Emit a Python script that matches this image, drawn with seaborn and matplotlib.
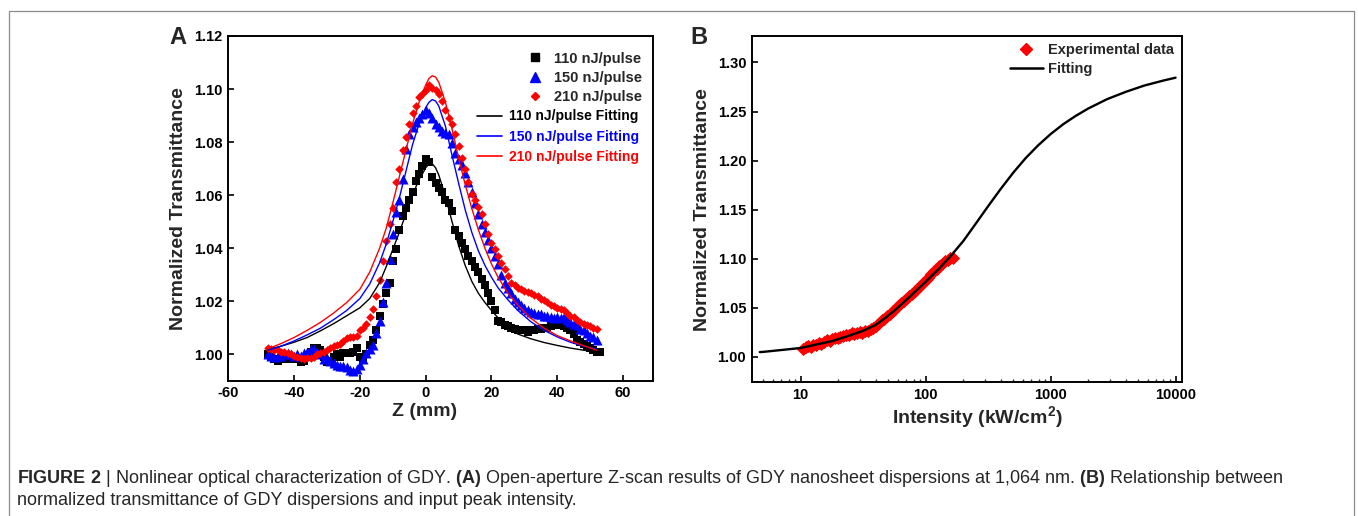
import matplotlib
matplotlib.use("Agg")
import matplotlib.pyplot as plt
from matplotlib.lines import Line2D
from matplotlib.patches import Rectangle
from matplotlib.ticker import FixedLocator, LogLocator, NullFormatter, FormatStrFormatter
import seaborn as sns

# ---------------- panel A: open-aperture Z-scan ----------------
Z_MM = [-48, -47, -46, -45, -44, -43, -42, -41, -40, -39,
        -38, -37, -36, -35, -34, -33, -32, -31, -30, -29,
        -28, -27, -26, -25, -24, -23, -22, -21, -20, -19,
        -18, -17, -16, -15, -14, -13, -12, -11, -10, -9,
        -8, -7, -6, -5, -4, -3, -2, -1, 0, 1,
        2, 3, 4, 5, 6, 7, 8, 9, 10, 11,
        12, 13, 14, 15, 16, 17, 18, 19, 20, 21,
        22, 23, 24, 25, 26, 27, 28, 29, 30, 31,
        32, 33, 34, 35, 36, 37, 38, 39, 40, 41,
        42, 43, 44, 45, 46, 47, 48, 49, 50, 51,
        52, 53]

T_110 = [1.000, 0.999, 0.998, 0.9975, 0.998, 0.998, 0.998, 0.998, 0.9985, 0.998,
         0.997, 0.9975, 0.999, 1.001, 1.0025, 1.0025, 1.0015, 0.999, 0.997, 0.9975,
         0.999, 1.000, 0.999, 1.0005, 1.0005, 1.0005, 1.001, 1.0025, 0.999, 0.998,
         1.000, 1.0035, 1.0055, 1.009, 1.0145, 1.019, 1.023, 1.027, 1.035, 1.0395,
         1.047, 1.052, 1.055, 1.058, 1.061, 1.0655, 1.068, 1.071, 1.0735, 1.0725,
         1.067, 1.0645, 1.0625, 1.061, 1.058, 1.057, 1.054, 1.047, 1.0445, 1.042,
         1.0395, 1.037, 1.035, 1.033, 1.031, 1.0285, 1.026, 1.023, 1.020, 1.0165,
         1.0125, 1.012, 1.011, 1.0105, 1.010, 1.0095, 1.009, 1.009, 1.009, 1.0085,
         1.009, 1.009, 1.0095, 1.0095, 1.010, 1.010, 1.0105, 1.011, 1.011, 1.011,
         1.0105, 1.010, 1.009, 1.0075, 1.0055, 1.0045, 1.004, 1.003, 1.0025, 1.0015,
         1.001, 1.001]

T_150 = [1.000, 0.9995, 0.999, 0.9995, 0.9995, 1.000, 1.0005, 1.000, 0.9995, 1.000,
         0.9995, 1.0005, 1.001, 1.002, 1.002, 1.001, 1.000, 0.998, 0.9985, 0.9975,
         0.9965, 0.996, 0.9955, 0.9955, 0.995, 0.994, 0.9937, 0.9945, 0.996, 0.998,
         1.0005, 1.002, 1.0035, 1.008, 1.0125, 1.0195, 1.027, 1.036, 1.0455, 1.0535,
         1.058, 1.066, 1.0775, 1.083, 1.0855, 1.0875, 1.089, 1.0905, 1.092, 1.091,
         1.089, 1.087, 1.0855, 1.084, 1.0835, 1.083, 1.0795, 1.076, 1.0735, 1.0715,
         1.0685, 1.065, 1.061, 1.057, 1.053, 1.049, 1.046, 1.043, 1.040, 1.037,
         1.034, 1.030, 1.027, 1.025, 1.023, 1.021, 1.0195, 1.0185, 1.0175, 1.0165,
         1.016, 1.0155, 1.015, 1.015, 1.0145, 1.0145, 1.014, 1.0135, 1.014, 1.0135,
         1.014, 1.013, 1.012, 1.0115, 1.011, 1.0095, 1.009, 1.008, 1.007, 1.0063,
         1.0055]

T_210 = [1.0025, 1.002, 1.0015, 1.0015, 1.001, 1.001, 1.0005, 1.000, 0.9995, 0.999,
         0.9985, 0.998, 0.9985, 0.9985, 0.999, 1.000, 1.0005, 1.001, 1.0015, 1.0025,
         1.003, 1.0035, 1.004, 1.005, 1.006, 1.0065, 1.0065, 1.007, 1.009, 1.010,
         1.0115, 1.014, 1.017, 1.022, 1.028, 1.035, 1.0425, 1.049, 1.055, 1.065,
         1.070, 1.077, 1.082, 1.087, 1.091, 1.0935, 1.097, 1.098, 1.0995, 1.1015,
         1.1005, 1.0995, 1.098, 1.0955, 1.092, 1.089, 1.087, 1.083, 1.0785, 1.074,
         1.070, 1.065, 1.0605, 1.058, 1.0555, 1.053, 1.049, 1.0455, 1.042, 1.0395,
         1.037, 1.0345, 1.032, 1.0295, 1.027, 1.026, 1.025, 1.0245, 1.024, 1.0235,
         1.023, 1.0225, 1.022, 1.021, 1.0205, 1.0195, 1.0185, 1.018, 1.0175, 1.017,
         1.0165, 1.0155, 1.0145, 1.014, 1.013, 1.012, 1.0115, 1.011, 1.0105, 1.010,
         1.0095]

FIT_Z = [-48, -44, -40, -36, -32, -28, -24, -20, -17, -14, -12, -10, -8, -6,
         -4, -2, -1, 0, 1, 2, 3, 4, 6, 8, 10, 12, 14, 16, 18, 20, 22, 25, 28,
         32, 36, 40, 44, 48, 52]
FIT_110 = [1.0018, 1.003, 1.0045, 1.0063, 1.0088, 1.0115, 1.0145, 1.0175, 1.021,
           1.027, 1.033, 1.0395, 1.046, 1.053, 1.060, 1.066, 1.068, 1.0703, 1.0717,
           1.0718, 1.0703, 1.0675, 1.0595, 1.050, 1.041, 1.0335, 1.0275, 1.023,
           1.0195, 1.0165, 1.0137, 1.0098, 1.0076, 1.0058, 1.0044, 1.0033, 1.0023,
           1.0015, 1.0009]
FIT_150 = [1.0015, 1.003, 1.005, 1.0073, 1.0098, 1.013, 1.0165, 1.021, 1.0265,
           1.0345, 1.0415, 1.050, 1.059, 1.069, 1.079, 1.087, 1.090, 1.093, 1.095,
           1.096, 1.0955, 1.0935, 1.086, 1.075, 1.0645, 1.0545, 1.046, 1.039,
           1.0335, 1.029, 1.025, 1.0205, 1.0165, 1.0122, 1.009, 1.0065, 1.0045,
           1.003, 1.0019]
FIT_210 = [1.002, 1.004, 1.0063, 1.009, 1.012, 1.0155, 1.0195, 1.0245, 1.031,
           1.040, 1.0475, 1.057, 1.067, 1.077, 1.087, 1.095, 1.0985, 1.1015, 1.104,
           1.105, 1.1045, 1.1025, 1.095, 1.085, 1.074, 1.064, 1.055, 1.047, 1.040,
           1.034, 1.029, 1.023, 1.0185, 1.0135, 1.0098, 1.007, 1.005, 1.0032, 1.0015]

# ---------------- panel B: transmittance vs intensity ----------------
EXP_I = [10.5, 11.0, 11.5, 12.0, 12.6, 13.2, 13.9, 14.6, 15.4, 16.2, 17.0, 17.9,
         18.8, 19.8, 20.8, 21.9, 23.0, 24.2, 25.5, 26.8, 28.2, 29.7, 31.2, 32.8,
         34.5, 36.3, 38.2, 40.2, 42.3, 44.5, 46.8, 49.2, 51.8, 54.5, 57.3, 60.3,
         63.4, 66.7, 70.2, 73.8, 77.6, 81.7, 85.9, 90.4, 95.1, 100, 105, 110.6,
         116.3, 122.3, 128.7, 135.4, 142.4, 149.8, 157.6, 165.8]
EXP_T = [1.008, 1.0095, 1.011, 1.010, 1.012, 1.0125, 1.014, 1.013, 1.0155, 1.017,
         1.0165, 1.0185, 1.019, 1.0195, 1.0205, 1.021, 1.022, 1.0225, 1.024, 1.0235,
         1.0245, 1.025, 1.0245, 1.026, 1.0265, 1.028, 1.029, 1.031, 1.034, 1.037,
         1.039, 1.042, 1.044, 1.047, 1.049, 1.052, 1.055, 1.057, 1.059, 1.062,
         1.064, 1.067, 1.069, 1.072, 1.075, 1.078, 1.0805, 1.084, 1.087, 1.090,
         1.0925, 1.095, 1.0975, 1.099, 1.1005, 1.101]

FIT_I = [4.7, 5.0, 7.1, 10, 13.3, 17.8, 23.7, 31.6, 39.8, 47.3, 56.2, 75, 100,
         126, 158, 200, 251, 316, 398, 501, 631, 794, 1000, 1259, 1585, 1995,
         2818, 3981, 5623, 7943, 10000]
FIT_T = [1.0048, 1.005, 1.007, 1.009, 1.0125, 1.016, 1.021, 1.0265, 1.0325,
         1.0395, 1.047, 1.0615, 1.0765, 1.089, 1.1025, 1.118, 1.1355, 1.1535,
         1.171, 1.1875, 1.2025, 1.2155, 1.227, 1.237, 1.2455, 1.253, 1.2625,
         1.270, 1.2765, 1.2815, 1.2845]

CAPTION_1 = (r"$\bf{FIGURE\ 2}$ | Nonlinear optical characterization of GDY. "
             r"$\bf{(A)}$ Open-aperture Z-scan results of GDY nanosheet dispersions "
             r"at 1,064 nm. $\bf{(B)}$ Relationship between")
CAPTION_2 = "normalized transmittance of GDY dispersions and input peak intensity."

sns.set_theme(style="ticks")
plt.rcParams["font.family"] = ["Liberation Sans", "DejaVu Sans"]
plt.rcParams["mathtext.fontset"] = "custom"
plt.rcParams["mathtext.rm"] = "Liberation Sans"
plt.rcParams["mathtext.bf"] = "Liberation Sans:bold"
plt.rcParams["axes.unicode_minus"] = False

W, H = 1358, 516
fig = plt.figure(figsize=(W / 100, H / 100), dpi=100)
fig.patch.set_facecolor("white")
ax_a = fig.add_axes([228.3 / W, (H - 380.7) / H, 424.4 / W, 344.7 / H])
ax_b = fig.add_axes([751.7 / W, (H - 382.3) / H, 430 / W, 346.3 / H])


def style_axes(ax):
    for sp in ax.spines.values():
        sp.set_linewidth(1.4)
        sp.set_color("black")
    ax.tick_params(direction="in", length=4, width=1.2, labelsize=10.5,
                   pad=4, top=False, right=False, colors="black")
    for lab in ax.get_xticklabels() + ax.get_yticklabels():
        lab.set_fontweight("bold")


# ---- panel A ----
sns.lineplot(x=FIT_Z, y=FIT_110, color="black", lw=1.0, ax=ax_a)
sns.lineplot(x=FIT_Z, y=FIT_150, color="blue", lw=1.0, ax=ax_a)
sns.lineplot(x=FIT_Z, y=FIT_210, color="red", lw=1.0, ax=ax_a)
sns.scatterplot(x=Z_MM[:len(T_110)], y=T_110, marker="s", color="black",
                s=34, linewidth=0, ax=ax_a)
sns.scatterplot(x=Z_MM[:len(T_150)], y=T_150, marker="^", color="blue",
                s=52, linewidth=0, ax=ax_a)
sns.scatterplot(x=Z_MM[:len(T_210)], y=T_210, marker="D", color="red",
                s=19, linewidth=0, ax=ax_a)

ax_a.set_xlim(-60, 69)
ax_a.set_ylim(0.99, 1.12)
ax_a.xaxis.set_major_locator(FixedLocator([-60, -40, -20, 0, 20, 40, 60]))
ax_a.yaxis.set_major_locator(FixedLocator([1.00, 1.02, 1.04, 1.06, 1.08, 1.10, 1.12]))
ax_a.yaxis.set_major_formatter(FormatStrFormatter("%.2f"))
ax_a.set_xlabel("Z (mm)", fontsize=14, fontweight="bold", labelpad=2)
ax_a.set_ylabel("Normalized Transmittance", fontsize=14, fontweight="bold", labelpad=5)
ax_a.xaxis.label.set_x(0.4635)
style_axes(ax_a)

pts = [Line2D([], [], ls="none", marker="s", color="black", markersize=6),
       Line2D([], [], ls="none", marker="^", color="blue", markersize=7),
       Line2D([], [], ls="none", marker="D", color="red", markersize=4)]
leg1 = ax_a.legend(pts, ["110 nJ/pulse", "150 nJ/pulse", "210 nJ/pulse"],
                   loc="upper right", bbox_to_anchor=(0.975, 0.955), frameon=False,
                   handlelength=1.0, handletextpad=0.8, labelspacing=0.35,
                   borderpad=0, borderaxespad=0,
                   prop={"size": 10.5, "weight": "bold"})
ax_a.add_artist(leg1)
fit_cols = ["black", "blue", "red"]
fits = [Line2D([], [], color=c, lw=1.2) for c in fit_cols]
leg2 = ax_a.legend(fits, ["110 nJ/pulse Fitting", "150 nJ/pulse Fitting",
                          "210 nJ/pulse Fitting"],
                   loc="upper right", bbox_to_anchor=(0.967, 0.787), frameon=False,
                   handlelength=1.75, handletextpad=0.5, labelspacing=0.45,
                   borderpad=0, borderaxespad=0,
                   prop={"size": 10, "weight": "bold"})
for txt, c in zip(leg2.get_texts(), fit_cols):
    txt.set_color(c)

# ---- panel B ----
sns.scatterplot(x=EXP_I, y=EXP_T, marker="D", color="red", s=45, linewidth=0,
                ax=ax_b, zorder=2)
sns.lineplot(x=FIT_I, y=FIT_T, color="black", lw=1.7, ax=ax_b, zorder=3)
ax_b.set_xscale("log")
ax_b.set_xlim(4.05, 11200)
ax_b.set_ylim(0.974, 1.327)
ax_b.xaxis.set_major_locator(FixedLocator([10, 100, 1000, 10000]))
ax_b.set_xticklabels(["10", "100", "1000", "10000"])
ax_b.xaxis.set_minor_locator(LogLocator(base=10, subs=[2, 3, 4, 5, 6, 7, 8, 9]))
ax_b.xaxis.set_minor_formatter(NullFormatter())
ax_b.yaxis.set_major_locator(FixedLocator([1.00, 1.05, 1.10, 1.15, 1.20, 1.25, 1.30]))
ax_b.yaxis.set_major_formatter(FormatStrFormatter("%.2f"))
ax_b.set_xlabel(r"Intensity (kW/cm$^\mathbf{2}$)", fontsize=14, fontweight="bold",
                labelpad=2)
ax_b.set_ylabel("Normalized Transmittance", fontsize=14, fontweight="bold", labelpad=5)
ax_b.xaxis.label.set_x(0.525)
style_axes(ax_b)
ax_b.tick_params(axis="x", which="minor", direction="in", length=2.5, width=1.0,
                 top=False)

hb = [Line2D([], [], ls="none", marker="D", color="red", markersize=6),
      Line2D([], [], color="black", lw=1.8)]
ax_b.legend(hb, ["Experimental data", "Fitting"], loc="upper right",
            bbox_to_anchor=(0.982, 0.979), frameon=False, handlelength=2.26,
            handletextpad=0.35, labelspacing=0.3, borderpad=0, borderaxespad=0,
            prop={"size": 10.5, "weight": "bold"})

# panel letters
fig.text(169 / W, (H - 38) / H, "A", fontsize=17, fontweight="bold", va="center")
fig.text(690 / W, (H - 38) / H, "B", fontsize=17, fontweight="bold", va="center")

# caption and frame
fig.text(17 / W, (H - 483) / H, CAPTION_1, fontsize=13, va="baseline")
fig.text(17 / W, (H - 505) / H, CAPTION_2, fontsize=13, va="baseline")
fig.add_artist(Rectangle((9 / W, -0.1), (1354 - 9) / W, (H - 11) / H + 0.1,
                         transform=fig.transFigure, fill=False,
                         edgecolor="#8c8c8c", lw=0.9))

fig.savefig("out.png", dpi=100)
